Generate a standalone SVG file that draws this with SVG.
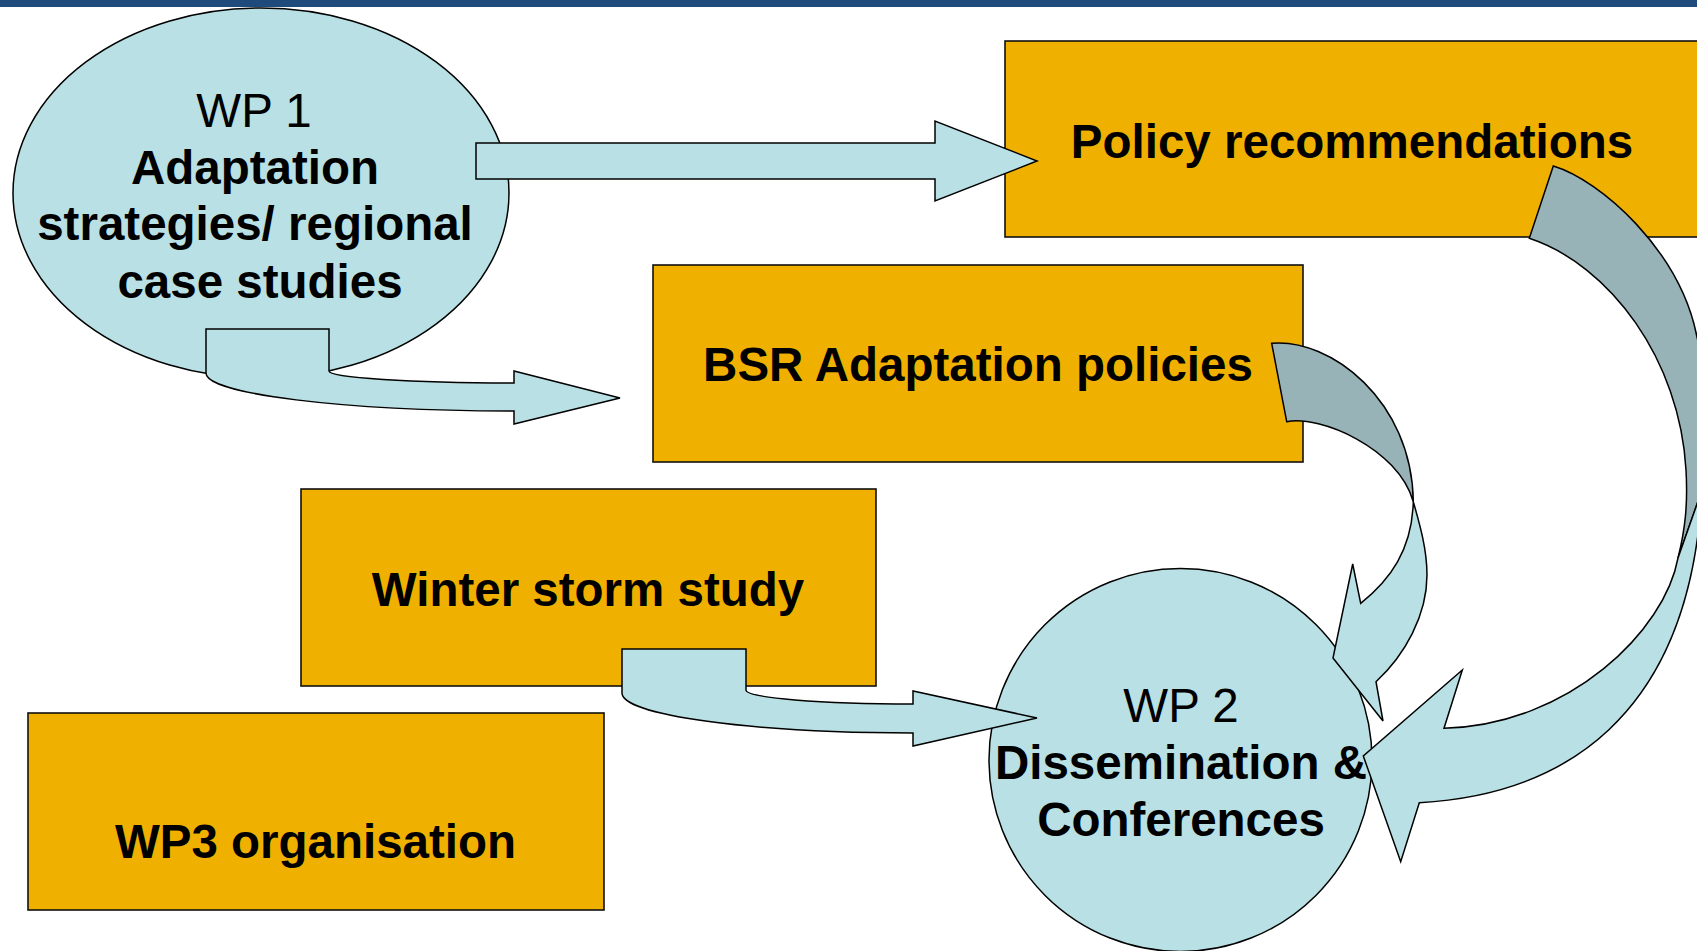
<svg xmlns="http://www.w3.org/2000/svg" width="1697" height="951" viewBox="0 0 1697 951">
<style>
.box{fill:#F0B000;stroke:#111;stroke-width:1.6}
.oval{fill:#B9E0E4;stroke:#000;stroke-width:1.5}
.arr{fill:#B9E0E4;stroke:#000;stroke-width:1.5;stroke-linejoin:miter}
.back{fill:#97B3B8;stroke:#000;stroke-width:1.5;stroke-linejoin:miter}
.t{font-family:"Liberation Sans",Arial,sans-serif;font-size:47.5px;text-anchor:middle;fill:#000}
.b{font-weight:bold}
</style>
<rect x="0" y="0" width="1697" height="951" fill="#FFFFFF"/>
<rect x="0" y="0" width="1697" height="7" fill="#1F4A7C"/>
<g id="wp1">
<ellipse class="oval" cx="261" cy="193" rx="248" ry="185"/>
<text class="t" x="254" y="127">WP 1</text>
<text class="t b" x="255" y="184">Adaptation</text>
<text class="t b" x="255" y="240">strategies/ regional</text>
<text class="t b" x="260" y="298">case studies</text>
</g>
<g id="policy">
<rect class="box" x="1005" y="41" width="720" height="196"/>
<text class="t b" x="1352" y="158">Policy recommendations</text>
</g>
<g id="bsr">
<rect class="box" x="653" y="265" width="650" height="197"/>
<text class="t b" x="978" y="381">BSR Adaptation policies</text>
</g>
<g id="winter">
<rect class="box" x="301" y="489" width="575" height="197"/>
<text class="t b" x="588" y="606">Winter storm study</text>
</g>
<g id="wp3">
<rect class="box" x="28" y="713" width="576" height="197"/>
<text class="t b" x="315.5" y="858">WP3 organisation</text>
</g>
<g id="wp2">
<circle class="oval" cx="1180.5" cy="760" r="191.5"/>
<text class="t" x="1181" y="722">WP 2</text>
<text class="t b" x="1181" y="779">Dissemination &amp;</text>
<text class="t b" x="1181" y="836">Conferences</text>
</g>
<g id="connectors">
<path class="arr" d="M 476 143 L 935 143 L 935 121 L 1037 161 L 935 201 L 935 179 L 476 179 Z"/>
<path class="arr" d="M 206 329 L 329 329 L 329 371 A 185 12 0 0 0 514 383 L 514 371 L 620 398 L 514 424 L 514 411 A 308 38 0 0 1 206 373 Z"/>
<path class="arr" d="M 622 649 L 746 649 L 746 690 A 167 14 0 0 0 913 704 L 913 691 L 1037 718 L 913 746 L 913 733 A 291 40 0 0 1 622 693 Z"/>
<path class="back" d="M 1271.7 343.3 C 1330 338 1412 400 1413.3 501.7 C 1398 448 1320 415 1286.7 421.7 Z"/>
<path class="arr" d="M 1413.3 501.7 C 1420 525 1427 550 1427 575 C 1427 615 1405 655 1376 681.7 L 1383 721 L 1333 658 L 1352.7 564 L 1360.7 603.3 C 1390 580 1412 550 1413.3 501.7 Z"/>
<path class="back" d="M 1553.3 166 C 1600 180 1680 250 1697 337 C 1712 400 1712 460 1702 490 L 1678 558 C 1685 530 1688 505 1686 470 C 1680 360 1610 265 1529.3 238.3 Z"/>
<path class="arr" d="M 1678 558 C 1665 630 1570 725 1444 728.3 L 1462.3 670 L 1363.3 756 L 1400.7 861.7 L 1419.3 802.7 C 1560 795 1690 720 1702 490 Z"/>
</g>
</svg>
